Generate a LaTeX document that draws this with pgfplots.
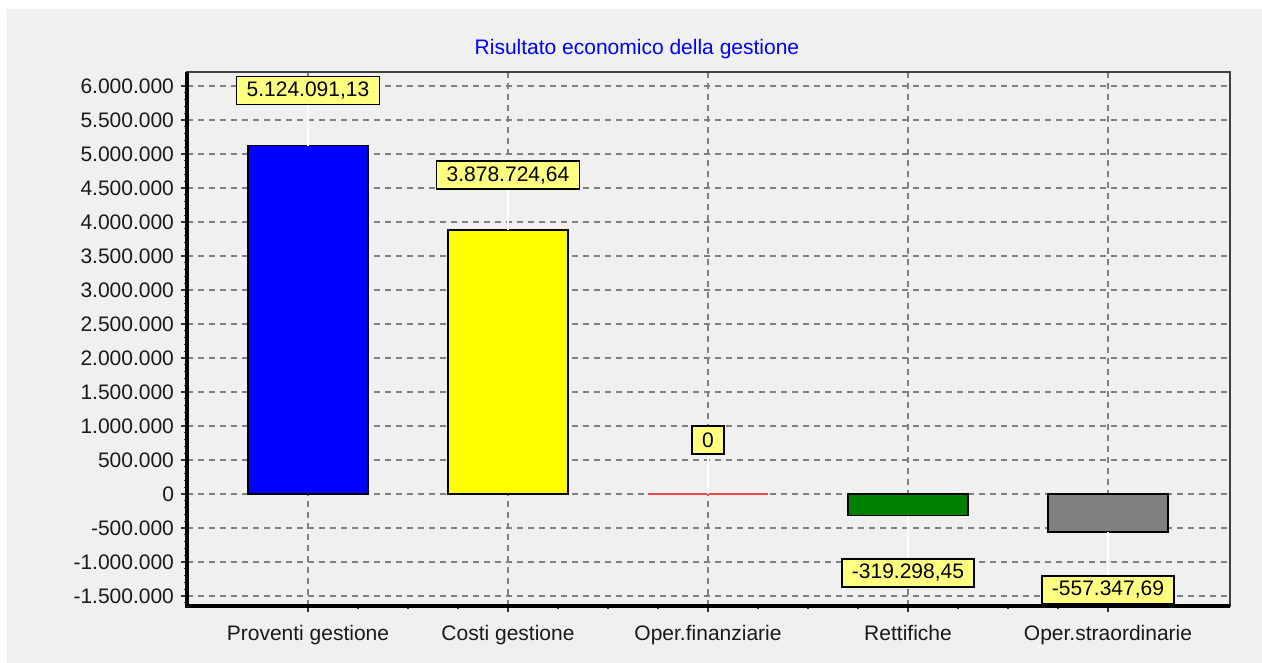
\documentclass[border=0pt]{standalone}
\usepackage{fontspec}
\setmainfont{Liberation Sans}
\usepackage{pgfplots}
\pgfplotsset{compat=1.18}
\definecolor{bgpanel}{RGB}{240,240,240}
\definecolor{lblyel}{RGB}{255,255,128}
\definecolor{baryel}{RGB}{255,255,0}
\definecolor{barblue}{RGB}{0,0,255}
\definecolor{gridgray}{RGB}{128,128,128}
\definecolor{framegray}{RGB}{64,64,64}
\definecolor{zerored}{RGB}{240,70,70}
\definecolor{bargreen}{RGB}{0,128,0}
\definecolor{bargray}{RGB}{128,128,128}
\newcommand{\chartfont}{\fontsize{10.5}{12}\selectfont}
\pgfplotsset{
  leaderup/.style={error bars/.cd, y dir=plus, y explicit, error mark=none,
    error bar style={white, line width=0.6pt}},
  leaderdown/.style={error bars/.cd, y dir=minus, y explicit, error mark=none,
    error bar style={white, line width=0.6pt}},
}

\begin{document}
\begin{tikzpicture}
% canvas 1262x663 px at 0.5pt/px, origin = axis lower left corner
\path[use as bounding box] (-93.5pt,-28.5pt) rectangle (537.5pt,303pt);
\fill[white] (-93.5pt,-28.5pt) rectangle (537.5pt,303pt);
\fill[bgpanel] (-90pt,-28.5pt) rectangle (537.5pt,298.5pt);
\begin{axis}[
  at={(0pt,0pt)}, anchor=south west, scale only axis,
  width=521.5pt, height=267pt,
  xmin=-0.605, xmax=4.61, ymin=-1647000, ymax=6206000,
  ybar, bar shift=0pt, bar width=0.6,
  clip=false,
  xtick={0,1,2,3,4},
  xticklabels={Proventi gestione, Costi gestione, Oper.finanziarie, Rettifiche, Oper.straordinarie},
  minor x tick num=3,
  ytick distance=500000, minor y tick num=4,
  scaled y ticks=false,
  yticklabel style={/pgf/number format/.cd, fixed, precision=0, 1000 sep={.}, assume math mode=true},
  tick align=outside, xtick pos=bottom, ytick pos=left,
  major tick length=3pt, minor tick length=1.5pt,
  tick style={black!80, line width=0.6pt},
  grid=major,
  major grid style={gridgray, line width=0.7pt, dash pattern=on 3pt off 2.5pt},
  axis background/.style={fill=bgpanel},
  axis line style={framegray, line width=1pt},
  tick label style={font=\chartfont, text=black!90},
  xticklabel style={yshift=-3pt},
  title={Risultato economico della gestione},
  title style={at={(0.4314,1)}, anchor=center, yshift=5.5pt, text=blue, font=\chartfont},
  point meta=explicit symbolic,
  nodes near coords,
  nodes near coords align={center},
  every node near coord/.append style={fill=lblyel, draw=black, line width=0.8pt,
    inner xsep=5pt, inner ysep=0pt, minimum height=14pt, text=black, font=\chartfont, anchor=center},
]
\addplot[fill=barblue, draw=black, line width=0.75pt,
  every node near coord/.append style={yshift=27.5pt}, leaderup]
  coordinates {(0,5124091.13) +- (0,603000) [5.124.091,13]};
\addplot[fill=baryel, draw=black, line width=0.75pt,
  every node near coord/.append style={yshift=27.5pt}, leaderup]
  coordinates {(1,3878724.64) +- (0,590000) [3.878.724,64]};
\addplot[fill=zerored, draw=zerored, line width=0.9pt,
  every node near coord/.append style={yshift=27pt}, leaderup]
  coordinates {(2,0) +- (0,590000) [0]};
\addplot[fill=bargreen, draw=black, line width=0.75pt,
  every node near coord/.append style={yshift=-28.5pt}, leaderdown]
  coordinates {(3,-319298.45) +- (0,630000) [-319.298,45]};
\addplot[fill=bargray, draw=black, line width=0.75pt,
  every node near coord/.append style={yshift=-29pt}, leaderdown]
  coordinates {(4,-557347.69) +- (0,655000) [-557.347,69]};
\draw[black, line width=1.6pt] (rel axis cs:0,1) -- (rel axis cs:0,0) -- (rel axis cs:1,0);
\end{axis}
\end{tikzpicture}
\end{document}
